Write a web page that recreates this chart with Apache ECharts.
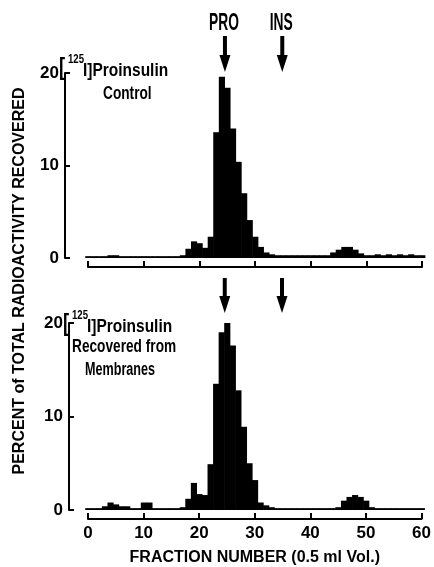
<!DOCTYPE html>
<html>
<head>
<meta charset="utf-8">
<script src="https://cdn.jsdelivr.net/npm/echarts@6/dist/echarts.min.js"></script>
<style>
html, body { margin: 0; background: #fff; }
#chart { width: 434px; height: 567px; }
</style>
</head>
<body>
<div id="chart"></div>
<script>
// fraction numbers (0.5 ml each)
var fractions = [0,1,2,3,4,5,6,7,8,9,10,11,12,13,14,15,16,17,18,19,20,
  21,22,23,24,25,26,27,28,29,30,31,32,33,34,35,36,37,38,39,40,
  41,42,43,44,45,46,47,48,49,50,51,52,53,54,55,56,57,58,59,60];

// % of total radioactivity, [125I]proinsulin control
var controlPct = [0.2,0.2,0.2,0.2,0.3,0.3,0.2,0.2,0.2,0.2,0.2,
  0.2,0.2,0.2,0.2,0.2,0.2,0.3,1.0,1.8,1.6,
  1.1,2.3,13.6,19.6,18.4,14.0,10.4,7.0,4.1,2.3,
  1.2,0.6,0.4,0.3,0.3,0.3,0.3,0.3,0.3,0.3,
  0.3,0.3,0.3,0.6,0.9,1.2,1.2,0.9,0.5,0.3,
  0.3,0.4,0.3,0.4,0.3,0.4,0.3,0.4,0.3,0.3];

// % of total radioactivity, recovered from membranes
var membranePct = [0.2,0.2,0.2,0.4,0.8,0.6,0.4,0.4,0.2,0.2,0.8,
  0.8,0.2,0.2,0.2,0.2,0.2,0.3,1.2,2.9,1.7,
  1.6,4.9,13.5,19.0,20.0,17.6,12.8,8.9,5.0,3.2,
  0.8,0.5,0.3,0.2,0.2,0.2,0.2,0.2,0.2,0.2,
  0.2,0.2,0.2,0.2,0.3,1.0,1.4,1.6,1.4,1.0,
  0.3,0.2,0.2,0.2,0.2,0.2,0.2,0.2,0.2,0.2];

var yTicks = [0, 10, 20];
var markers = [{ name: 'PRO', fraction: 24.6 }, { name: 'INS', fraction: 34.9 }];

var FONT = "'Liberation Sans', Arial, sans-serif";

function pairs(vals) {
  return fractions.map(function (f, i) { return [f, vals[i]]; });
}

function renderBar(params, api) {
  var x = api.value(0), v = api.value(1);
  var p0 = api.coord([x - 0.5, v]);
  var p1 = api.coord([x + 0.5, 0]);
  return {
    type: 'rect',
    shape: { x: p0[0], y: p0[1], width: p1[0] - p0[0] + 0.6, height: p1[1] - p0[1] },
    style: { fill: '#000' }
  };
}

function xAxisCfg(idx, showLabels) {
  return {
    type: 'value', gridIndex: idx, min: 0, max: 60, interval: 10,
    position: 'bottom', offset: 9,
    axisLine: { onZero: false, lineStyle: { color: '#000', width: 2 } },
    axisTick: { inside: true, length: 6, lineStyle: { color: '#000', width: 2 } },
    axisLabel: {
      show: showLabels, color: '#000', fontFamily: FONT, fontWeight: 'bold',
      fontSize: 17, margin: 6
    },
    splitLine: { show: false },
    name: showLabels ? 'FRACTION NUMBER (0.5 ml Vol.)' : '',
    nameLocation: 'middle', nameGap: 31,
    nameTextStyle: { color: '#000', fontFamily: FONT, fontWeight: 'bold', fontSize: 16 }
  };
}

function yAxisCfg(idx, off) {
  return {
    type: 'value', gridIndex: idx, min: 0, max: 20, interval: 10,
    offset: off,
    axisLine: { show: true, onZero: false, lineStyle: { color: '#000', width: 2 } },
    axisTick: { show: true, inside: true, length: 5, lineStyle: { color: '#000', width: 2 } },
    axisLabel: { color: '#000', fontFamily: FONT, fontWeight: 'bold', fontSize: 17, margin: 6,
      customValues: yTicks },
    splitLine: { show: false }
  };
}

var chart = echarts.init(document.getElementById('chart'));
chart.setOption({
  backgroundColor: '#fff',
  animation: false,
  grid: [
    { left: 88, right: 12, top: 73, height: 185 },
    { left: 88, right: 12, top: 323, height: 190 }
  ],
  xAxis: [xAxisCfg(0, false), xAxisCfg(1, true)],
  yAxis: [yAxisCfg(0, 23), yAxisCfg(1, 19)],
  series: [
    { type: 'custom', xAxisIndex: 0, yAxisIndex: 0, renderItem: renderBar, data: pairs(controlPct) },
    { type: 'custom', xAxisIndex: 1, yAxisIndex: 1, renderItem: renderBar, data: pairs(membranePct) }
  ]
});

function txt(x, y, s, size, sx, align) {
  return {
    type: 'text', x: x, y: y, scaleX: sx || 1,
    style: { text: s, fill: '#000', font: 'bold ' + size + 'px ' + FONT,
      align: align || 'left', verticalAlign: 'top' }
  };
}

function arrow(cx, y0, y1) {
  var headH = 17;
  return [
    { type: 'rect', shape: { x: cx - 2, y: y0, width: 4, height: y1 - y0 - headH + 2 }, style: { fill: '#000' } },
    { type: 'polygon', shape: { points: [[cx - 5.5, y1 - headH], [cx + 5.5, y1 - headH], [cx, y1]] }, style: { fill: '#000' } }
  ];
}

var g = [];
markers.forEach(function (m) {
  var px0 = chart.convertToPixel({ xAxisIndex: 0 }, m.fraction);
  var px1 = chart.convertToPixel({ xAxisIndex: 1 }, m.fraction);
  g = g.concat(arrow(px0, 36, 72));
  g = g.concat(arrow(px1, 278, 313));
  g.push(txt(px0 - 1, 12, m.name, 23, 0.6, 'center'));
});

// panel labels
g.push(txt(59, 57, '[', 23, 0.8));
g.push(txt(68, 54, '125', 12, 0.8));
g.push(txt(83, 62, 'I]Proinsulin', 18, 0.86));
g.push(txt(103, 85, 'Control', 18, 0.76));

g.push(txt(63, 313, '[', 23, 0.8));
g.push(txt(72, 310, '125', 12, 0.8));
g.push(txt(87, 318, 'I]Proinsulin', 18, 0.86));
g.push(txt(72, 338, 'Recovered from', 18, 0.76));
g.push(txt(85, 361, 'Membranes', 18, 0.7));

// y axis title spanning both panels
g.push({
  type: 'text', x: 20, y: 281, rotation: Math.PI / 2,
  style: { text: 'PERCENT of TOTAL RADIOACTIVITY RECOVERED', fill: '#000',
    font: 'bold 16px ' + FONT, align: 'center', verticalAlign: 'middle' }
});

chart.setOption({ graphic: g });
</script>
</body>
</html>
